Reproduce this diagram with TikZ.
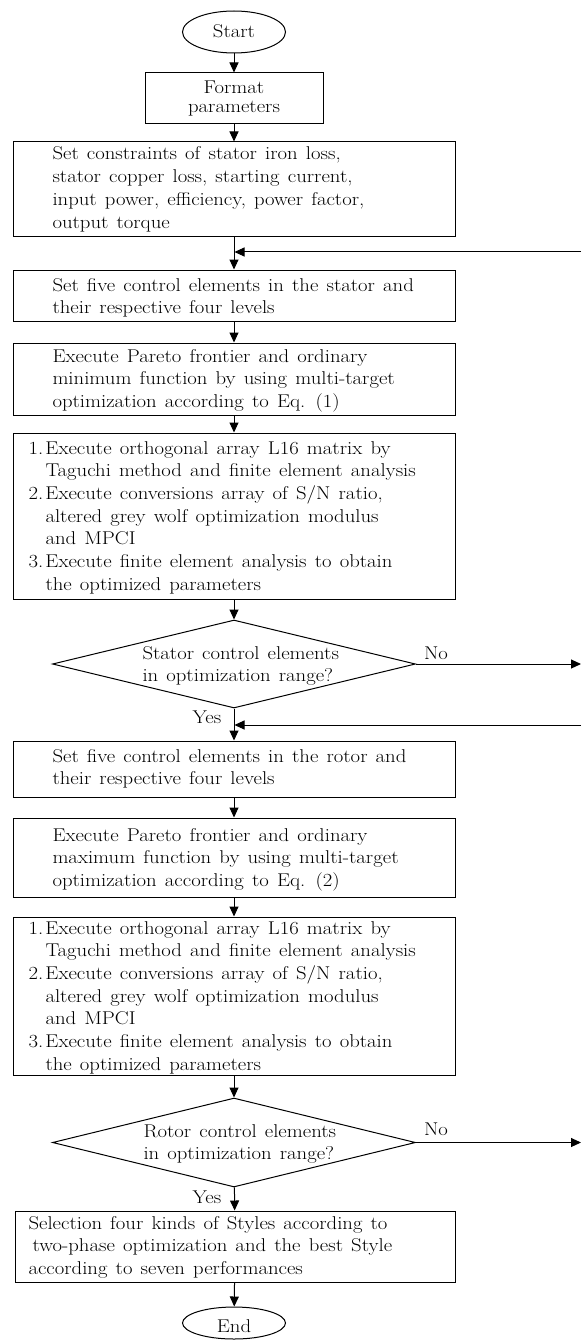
\documentclass[tikz,border=0pt]{standalone}
\usepackage{fontspec}
\setmainfont{Latin Modern Roman}[FakeStretch=1.12, WordSpace=1.3]
\usetikzlibrary{arrows.meta,shapes.geometric}
\begin{document}
\begin{tikzpicture}[x=1pt,y=-1pt,
  line width=1pt,
  box/.style={draw, rectangle, inner sep=0pt, minimum width=442pt},
  term/.style={draw, ellipse, inner sep=0pt, minimum width=103pt},
  decision/.style={draw, diamond, inner sep=0pt, minimum width=363pt, minimum height=88pt},
  txt/.style={font=\fontsize{18.5}{22.7}\selectfont, align=left, inner sep=0pt, anchor=base west},
  ctxt/.style={font=\fontsize{18.5}{18.3}\selectfont, align=center, inner sep=0pt, anchor=base},
  arr/.style={-{Triangle[length=10pt,width=9pt]}}
]
\useasboundingbox (0,0) rectangle (581,1340);

% shapes
\node[term, minimum height=42pt] (start) at (234,32) {};
\node[box, minimum width=178pt, minimum height=51pt] (fmt) at (234,98.5) {};
\node[box, minimum height=95pt] (c1) at (234,189.5) {};
\node[box, minimum height=51pt] (s1) at (234,295.5) {};
\node[box, minimum height=72pt] (p1) at (234,379) {};
\node[box, minimum height=166pt] (l1) at (234,516) {};
\node[decision] (d1) at (234,664) {};
\node[box, minimum height=56pt] (s2) at (234,769) {};
\node[box, minimum height=79pt] (p2) at (234,857.5) {};
\node[box, minimum height=158pt] (l2) at (234,996) {};
\node[decision, minimum height=89pt] (d2) at (234,1142.5) {};
\node[box, minimum width=440pt, minimum height=71pt] (fin) at (235,1246.5) {};
\node[term, minimum height=32pt] (end) at (234,1323) {};

% texts (anchored at the baseline of their last line)
\node[ctxt] (startt) at (234,38) {Start};
\node[ctxt] (fmtt) at (234,112.3) {Format\\parameters};
\node[txt] (c1t) at (52,228.1) {Set constraints of stator iron loss,\\stator copper loss, starting current,\\input power, efficiency, power factor,\\output torque};
\node[txt] (s1t) at (52,313.7) {Set five control elements in the stator and\\their respective four levels};
\node[txt] (p1t) at (52,407.4) {Execute Pareto frontier and ordinary\\minimum function by using multi-target\\optimization according to Eq. (1)};
\node[txt] (l1t) at (28,590.2) {\makebox[17pt][l]{1.}Execute orthogonal array L16 matrix by\\\hspace*{17pt}Taguchi method and finite element analysis\\\makebox[17pt][l]{2.}Execute conversions array of S/N ratio,\\\hspace*{17pt}altered grey wolf optimization modulus\\\hspace*{17pt}and MPCI\\\makebox[17pt][l]{3.}Execute finite element analysis to obtain\\\hspace*{17pt}the optimized parameters};
\node[txt] (d1t) at (142,681.7) {Stator control elements\\in optimization range?};
\node[txt] (s2t) at (52,784.7) {Set five control elements in the rotor and\\their respective four levels};
\node[txt] (p2t) at (52,886.4) {Execute Pareto frontier and ordinary\\maximum function by using multi-target\\optimization according to Eq. (2)};
\node[txt] (l2t) at (28,1070.2) {\makebox[17pt][l]{1.}Execute orthogonal array L16 matrix by\\\hspace*{17pt}Taguchi method and finite element analysis\\\makebox[17pt][l]{2.}Execute conversions array of S/N ratio,\\\hspace*{17pt}altered grey wolf optimization modulus\\\hspace*{17pt}and MPCI\\\makebox[17pt][l]{3.}Execute finite element analysis to obtain\\\hspace*{17pt}the optimized parameters};
\node[txt] (d2t) at (143,1159.7) {Rotor control elements\\in optimization range?};
\node[txt] (fint) at (28,1274.5) {Selection four kinds of Styles according to\\\hspace*{4pt}two-phase optimization and the best Style\\according to seven performances};
\node[ctxt] (endt) at (234,1332) {End};
\node[ctxt] (yes1) at (207,723) {Yes};
\node[ctxt] (yes2) at (207,1203) {Yes};
\node[ctxt] (no1) at (436,659) {No};
\node[ctxt] (no2) at (436,1135) {No};

% connectors
\draw[arr] (start) -- (fmt);
\draw[arr] (fmt) -- (c1);
\draw[arr] (c1) -- (s1);
\draw[arr] (s1) -- (p1);
\draw[arr] (p1) -- (l1);
\draw[arr] (l1) -- (d1);
\draw[arr] (d1) -- (s2);
\draw[arr] (s2) -- (p2);
\draw[arr] (p2) -- (l2);
\draw[arr] (l2) -- (d2);
\draw[arr] (d2) -- (fin);
\draw[arr] (fin) -- (end);

\coordinate (no1e) at (581,664);
\coordinate (no2e) at (581,1142.5);
\coordinate (fb1) at (581,252);
\coordinate (fb2) at (581,725);
\coordinate (j1) at (234.5,252);
\coordinate (j2) at (234.5,725);
\draw[arr] (d1.east) -- (no1e);
\draw[arr] (d2.east) -- (no2e);
\draw[arr] (fb1) -- (j1);
\draw[arr] (fb2) -- (j2);
\end{tikzpicture}
\end{document}
